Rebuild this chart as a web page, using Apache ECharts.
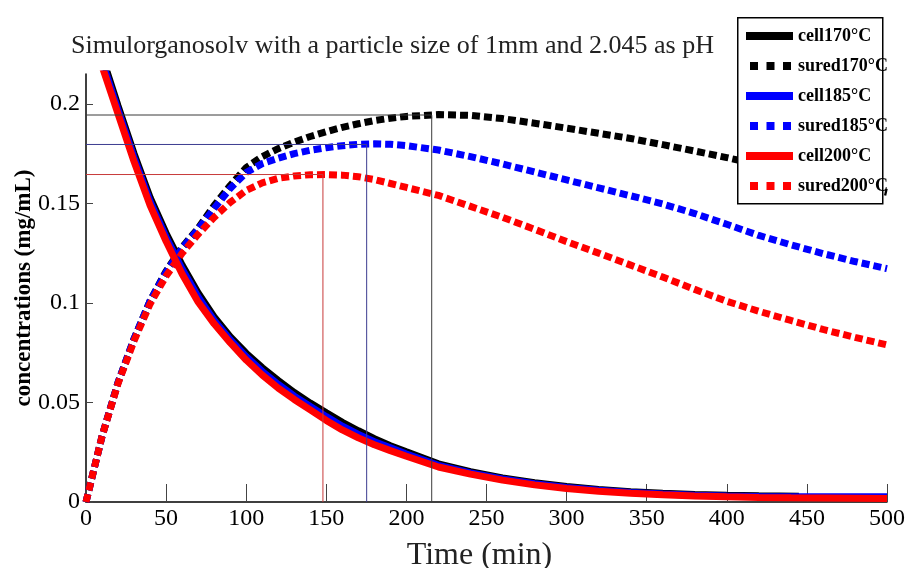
<!DOCTYPE html>
<html>
<head>
<meta charset="utf-8">
<script src="https://cdn.jsdelivr.net/npm/echarts@6/dist/echarts.min.js"></script>
<style>
  html, body { margin: 0; padding: 0; background: #fff; }
  #chart { width: 914px; height: 568px; }
</style>
</head>
<body>
<div id="chart"></div>
<script>
// Time grid (min) shared by most curves
const times = [0, 10, 20, 30, 40, 50, 60, 70, 80, 90, 100, 110, 120, 130, 140, 150,
  160, 170, 180, 190, 200, 220, 240, 260, 280, 300, 320, 340, 360, 380, 400, 420,
  440, 460, 480, 500];
// the 170 °C cellulose curve stops a little earlier
const timesCell170 = [0, 10, 20, 30, 40, 50, 60, 70, 80, 90, 100, 110, 120, 130, 140, 150,
  160, 170, 180, 190, 200, 220, 240, 260, 280, 300, 320, 340, 360, 380, 400, 420, 445];

// Cellulose concentration (mg/mL)
const cell170 = [0.250, 0.224, 0.199, 0.175, 0.153, 0.135, 0.119, 0.105, 0.093, 0.083,
  0.0747, 0.0675, 0.0610, 0.0550, 0.0497, 0.0448, 0.0400, 0.0358, 0.0318, 0.0283,
  0.0252, 0.0192, 0.0152, 0.0121, 0.0097, 0.0078, 0.0063, 0.0052, 0.0044, 0.0038,
  0.0034, 0.0031, 0.0029];
const cell185 = [0.2485, 0.2215, 0.197, 0.173, 0.151, 0.133, 0.117, 0.103, 0.0912, 0.0815,
  0.0730, 0.0656, 0.0591, 0.0532, 0.0480, 0.0429, 0.0381, 0.0340, 0.0303, 0.0272,
  0.0241, 0.0184, 0.0146, 0.0116, 0.0092, 0.0073, 0.0059, 0.0048, 0.0040, 0.0034,
  0.0030, 0.0028, 0.0027, 0.0026, 0.0026, 0.0026];
const cell200 = [0.247, 0.219, 0.195, 0.171, 0.149, 0.131, 0.1145, 0.1005, 0.0895, 0.0800,
  0.0713, 0.0638, 0.0572, 0.0515, 0.0463, 0.0410, 0.0362, 0.0322, 0.0288, 0.0258,
  0.0230, 0.0176, 0.0140, 0.0110, 0.0086, 0.0068, 0.0054, 0.0044, 0.0036, 0.0030,
  0.0026, 0.0023, 0.0021, 0.0020, 0.0019, 0.0018];

// Reducing sugar concentration (mg/mL)
const sured170 = [0, 0.033, 0.060, 0.082, 0.101, 0.116, 0.128, 0.1375, 0.149, 0.159,
  0.168, 0.1735, 0.1775, 0.1808, 0.1836, 0.1860, 0.1882, 0.1900, 0.1916, 0.1928,
  0.1937, 0.1946, 0.1942, 0.1926, 0.1903, 0.1878, 0.1852, 0.1826, 0.1795, 0.1763,
  0.1730, 0.1695, 0.1660, 0.1625, 0.1590, 0.1555];
const sured185 = [0, 0.033, 0.060, 0.082, 0.101, 0.1155, 0.1275, 0.137, 0.1475, 0.1575,
  0.1655, 0.1700, 0.1727, 0.1750, 0.1767, 0.1780, 0.1790, 0.1797, 0.1799, 0.1797,
  0.1790, 0.1768, 0.1735, 0.1698, 0.1658, 0.1618, 0.1578, 0.1538, 0.1497, 0.1449,
  0.1395, 0.1339, 0.1292, 0.1248, 0.1208, 0.1172];
const sured200 = [0, 0.033, 0.0595, 0.081, 0.0995, 0.1135, 0.125, 0.1345, 0.1430, 0.1505,
  0.1565, 0.1603, 0.1626, 0.1638, 0.1644, 0.1645, 0.1642, 0.1634, 0.1620, 0.1600,
  0.1580, 0.1540, 0.1485, 0.1430, 0.1370, 0.1308, 0.1250, 0.1190, 0.1130, 0.1068,
  0.1008, 0.0958, 0.0912, 0.0867, 0.0827, 0.0789];

// Sugar maximum for each temperature: time (min) and concentration (mg/mL)
const peakTimes = [215.8, 175.2, 147.9];
const peakValues = [0.1944, 0.1796, 0.1645];

// Axis ticks
const xTicks = [0, 50, 100, 150, 200, 250, 300, 350, 400, 450, 500];
const yTicks = [0, 0.05, 0.1, 0.15, 0.2];
const yTop = 0.215;

const names = ['cell170°C', 'sured170°C', 'cell185°C', 'sured185°C', 'cell200°C', 'sured200°C'];
const colors = ['#000000', '#0000ff', '#ff0000'];
const refColors = ['#3a3a3a', '#3c3c90', '#c83a3a'];

const serif = 'Liberation Serif, Times New Roman, serif';

function pairs(ts, vs) { return vs.map((v, i) => [ts[i], v]); }

const cellSets = [pairs(timesCell170, cell170), pairs(times, cell185), pairs(times, cell200)];
const suredSets = [pairs(times, sured170), pairs(times, sured185), pairs(times, sured200)];

const series = [];
for (let k = 0; k < 3; k++) {
  series.push({
    name: names[2 * k], type: 'line', data: cellSets[k], showSymbol: false, symbol: 'none',
    color: colors[k],
    lineStyle: { color: colors[k], width: 7, cap: 'butt' },
    silent: true
  });
  series.push({
    name: names[2 * k + 1], type: 'line', data: suredSets[k], showSymbol: false, symbol: 'none',
    color: colors[k],
    lineStyle: { color: colors[k], width: 7, type: [8, 4], cap: 'butt' },
    silent: true
  });
}
// Guide lines from the y axis to each sugar maximum and down to the time axis
for (let k = 0; k < 3; k++) {
  series.push({
    type: 'line', data: [[0, peakValues[k]], [peakTimes[k], peakValues[k]], [peakTimes[k], 0]],
    symbol: 'none', silent: true,
    lineStyle: { color: refColors[k], width: 1 }
  });
}

const dashIcon = 'path://M0,0M47,8M4,0h8v8h-8zM20.5,0h8v8h-8zM37,0h8v8h-8z';

const chart = echarts.init(document.getElementById('chart'), null, { renderer: 'canvas' });
chart.setOption({
  animation: false,
  backgroundColor: '#ffffff',
  title: {
    text: 'Simulorganosolv with a particle size of 1mm and 2.045 as pH',
    left: 66, top: 28,
    textStyle: { fontFamily: serif, fontSize: 26, fontWeight: 'normal', color: '#222' }
  },
  grid: { left: 86, right: 27, top: 74, bottom: 66, containLabel: false, outerBoundsMode: 'none' },
  xAxis: {
    type: 'value', min: xTicks[0], max: xTicks[xTicks.length - 1], interval: xTicks[1] - xTicks[0],
    name: 'Time (min)', nameLocation: 'middle', nameGap: 38,
    nameTextStyle: { fontFamily: serif, fontSize: 32, color: '#222', padding: [0, 14, 0, 0] },
    axisLine: { lineStyle: { color: '#000', width: 1.5 } },
    axisTick: { inside: true, length: 18, lineStyle: { color: '#444', width: 1 } },
    axisLabel: { fontFamily: serif, fontSize: 24, color: '#000', margin: 5 },
    splitLine: { show: false }
  },
  yAxis: {
    type: 'value', min: yTicks[0], max: yTop, interval: yTicks[1] - yTicks[0],
    name: 'concentrations (mg/mL)', nameLocation: 'middle', nameGap: 50, nameRotate: 90,
    nameMoveOverlap: false,
    nameTextStyle: { fontFamily: serif, fontSize: 23, fontWeight: 'bold', color: '#000' },
    axisLine: { show: true, lineStyle: { color: '#000', width: 1.5 } },
    axisTick: { show: true, inside: true, length: 7, lineStyle: { color: '#444', width: 1 } },
    axisLabel: {
      fontFamily: serif, fontSize: 24, color: '#000', margin: 6, showMaxLabel: false,
      formatter: v => {
        const hit = yTicks.find(t => Math.abs(t - v) < 1e-9);
        return hit === undefined ? '' : String(hit);
      }
    },
    splitLine: { show: false }
  },
  legend: {
    orient: 'vertical', left: 746, top: 27, padding: 0, zlevel: 2,
    itemWidth: 47, itemHeight: 8, itemGap: 12,
    textStyle: { fontFamily: serif, fontSize: 18, fontWeight: 'bold', color: '#000', lineHeight: 18 },
    selectedMode: false,
    data: names.map((n, i) => ({ name: n, icon: i % 2 === 0 ? 'rect' : dashIcon }))
  },
  graphic: [{
    type: 'rect', left: 737, top: 17, z: 0, zlevel: 1, silent: true,
    shape: { width: 145, height: 186 },
    style: { fill: '#ffffff', stroke: '#000', lineWidth: 1.5 }
  }],
  series: series
});
</script>
</body>
</html>
